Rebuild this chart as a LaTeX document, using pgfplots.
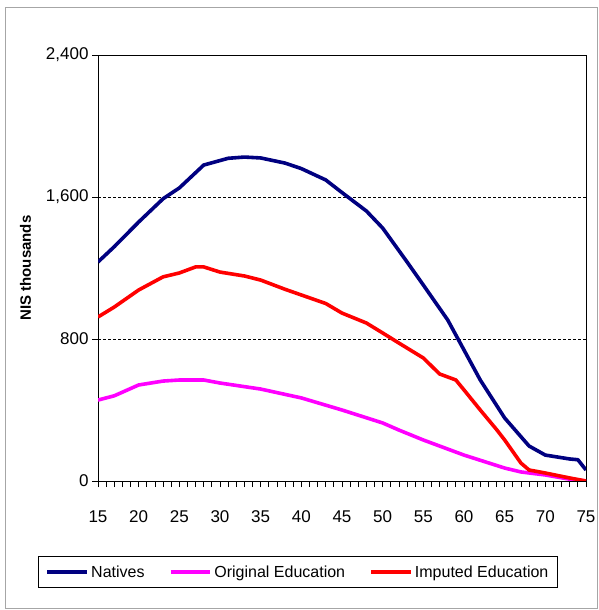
\documentclass[border=0pt]{standalone}
\usepackage{pgfplots}
\pgfplotsset{compat=1.18}
\usepackage{fontspec}
\setmainfont{Liberation Sans}
\definecolor{nat}{RGB}{0,0,128}
\definecolor{ori}{RGB}{255,0,255}
\begin{document}
\begin{tikzpicture}
\path[use as bounding box] (0pt,0pt) rectangle (598pt,610pt);
\draw[gray!70] (5pt,2pt) rectangle (597.5pt,603pt);
\begin{axis}[at={(98pt,129pt)},anchor=south west,
  width=488pt,height=426pt,scale only axis,
  xmin=15,xmax=75,ymin=0,ymax=2400,
  xtick={15,20,...,75},minor xtick={15,16,...,75},
  ytick={0,800,1600,2400},
  yticklabels={0,800,{1,600},{2,400}},
  tick align=outside,
  major tick length=6pt,minor tick length=6pt,
  xtick pos=bottom,ytick pos=left,
  minor tick style={black,thick},major tick style={black,thick},
  xticklabel style={yshift=-20pt},
  tick label style={font=\fontsize{17}{17}\selectfont},
  /pgf/number format/assume math mode=true,
  ylabel={\textbf{NIS thousands}},ylabel style={font=\fontsize{15}{15}\selectfont,yshift=8pt},
  ymajorgrids, grid style={black,densely dashed,thick},
  axis line style={black,thick},
  legend style={at={(-0.123,-0.177)},anchor=north west,draw=black,thick,
    font=\fontsize{16}{16}\selectfont,legend columns=3,
    /tikz/every even column/.append style={column sep=22pt},inner sep=7pt},
  legend image code/.code={\draw[#1,line width=4pt](0,0)--(1.4cm,0);},
]
\addplot[nat,line width=3.6pt,line join=round] coordinates {(15,1234)(17,1320)(20,1459)(23,1590)(25,1651)(28,1780)(31,1818)(33,1825)(35,1820)(38,1791)(40,1760)(43,1696)(45,1625)(48,1521)(50,1425)(53,1234)(55,1104)(58,907)(60,738)(62,569)(65,355)(68,197)(70,146)(73,124)(74,120)(75,62)};
\addlegendentry{Natives}
\addplot[ori,line width=3.6pt,line join=round] coordinates {(15,456)(17,480)(20,541)(23,563)(25,569)(28,569)(30,552)(35,518)(40,468)(45,400)(50,327)(52,287)(55,231)(60,146)(65,73)(67,51)(70,34)(73,10)(75,0)};
\addlegendentry{Original Education}
\addplot[red,line width=3.6pt,line join=round] coordinates {(15,924)(17,980)(20,1076)(23,1150)(25,1172)(27,1206)(28,1206)(30,1177)(33,1155)(35,1132)(38,1080)(40,1048)(43,1000)(45,946)(48,890)(50,834)(52,777)(55,693)(57,603)(59,569)(60,513)(62,400)(64,290)(65,231)(67,101)(68,62)(70,45)(73,17)(75,0)};
\addlegendentry{Imputed Education}
\end{axis}
\end{tikzpicture}
\end{document}
